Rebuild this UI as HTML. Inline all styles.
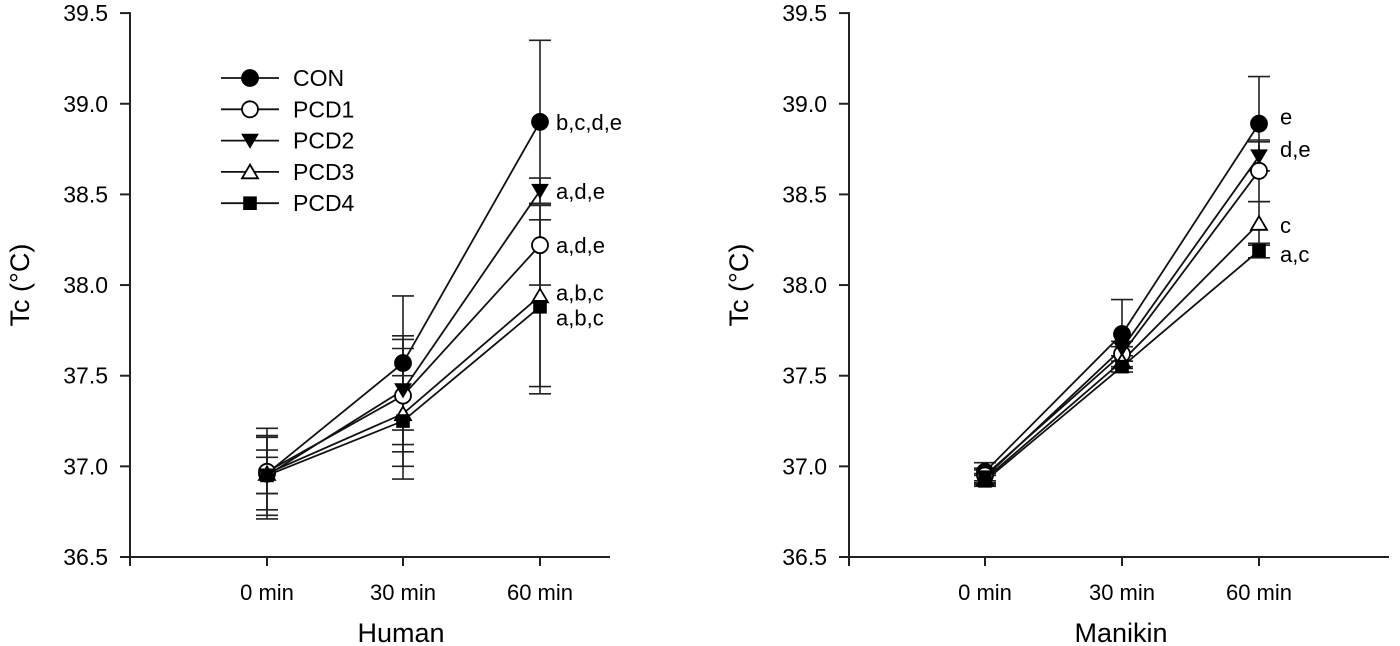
<!DOCTYPE html>
<html><head><meta charset="utf-8"><style>
body{margin:0;background:#fff;}
svg{display:block;font-family:"Liberation Sans",Arial,sans-serif;}
</style></head><body>
<svg id="chart" width="1400" height="646" viewBox="0 0 1400 646"></svg>
<script>
const categories = ["0 min","30 min","60 min"];
const seriesNames = ["CON","PCD1","PCD2","PCD3","PCD4"];
const yTicks = [36.5,37.0,37.5,38.0,38.5,39.0,39.5];
const humanCON  = [36.96,37.57,38.90];
const humanPCD1 = [36.97,37.39,38.22];
const humanPCD2 = [36.95,37.42,38.52];
const humanPCD3 = [36.96,37.29,37.94];
const humanPCD4 = [36.95,37.25,37.88];
const humanErrCON  = [0.25,0.37,0.45];
const humanErrPCD1 = [0.12,0.31,0.22];
const humanErrPCD2 = [0.22,0.30,0.07];
const humanErrPCD3 = [0.20,0.36,0.50];
const humanErrPCD4 = [0.10,0.25,0.48];
const humanNotes = ["b,c,d,e","a,d,e","a,d,e","a,b,c","a,b,c"];
const manCON  = [36.97,37.73,38.89];
const manPCD1 = [36.95,37.62,38.63];
const manPCD2 = [36.94,37.65,38.71];
const manPCD3 = [36.93,37.58,38.34];
const manPCD4 = [36.92,37.55,38.19];
const manErrCON  = [0.05,0.19,0.26];
const manErrPCD1 = [0.04,0.04,0.17];
const manErrPCD2 = [0.04,0.04,0.08];
const manErrPCD3 = [0.03,0.03,0.12];
const manErrPCD4 = [0.03,0.03,0.04];
const manNotes = ["e","d,e","c","a,c"];
const manNoteVals = [38.93,38.75,38.33,38.17];
const humanNoteVals = [38.90,38.52,38.22,37.96,37.82];

const NS="http://www.w3.org/2000/svg";
const svg=document.getElementById('chart');
function mk(tag,attrs,parent){const e=document.createElementNS(NS,tag);for(const k in attrs)e.setAttribute(k,attrs[k]);(parent||svg).appendChild(e);return e;}
const Y0=557, PXU=181.3;
function yS(v){return Y0-(v-36.5)*PXU;}

function marker(g,type,x,y,s){
  let e;
  if(type===0||type===1){e=mk('circle',{cx:x,cy:y,r:s,fill:type===0?'#000':'#fff',stroke:'#000','stroke-width':1.8},g);}
  else if(type===2){e=mk('polygon',{points:`${x-s},${y-s*0.8} ${x+s},${y-s*0.8} ${x},${y+s*0.9}`,fill:'#000',stroke:'#000'},g);}
  else if(type===3){e=mk('polygon',{points:`${x-s},${y+s*0.8} ${x+s},${y+s*0.8} ${x},${y-s*0.9}`,fill:'#fff',stroke:'#000','stroke-width':1.8},g);}
  else {e=mk('rect',{x:x-s*0.85,y:y-s*0.85,width:s*1.7,height:s*1.7,fill:'#000'},g);}
  return e;
}

function panel(name,axisX,xs,series,errs,title,notes,noteVals,noteX,titleX){
  const g=mk('g',{});
  
  
  function xS(i){return xs[i];}
  const ax=mk('line',{x1:axisX,y1:yS(39.5)-1,x2:axisX,y2:Y0,stroke:'#222','stroke-width':2},g);
  
  const bx=mk('line',{x1:axisX,y1:Y0,x2:xs[2]+(name==='human'?70:130),y2:Y0,stroke:'#222','stroke-width':2},g);
  
  yTicks.forEach(t=>{
    mk('line',{x1:axisX-10,y1:yS(t),x2:axisX,y2:yS(t),stroke:'#222','stroke-width':2},g);
    const tx=mk('text',{x:axisX-22,y:yS(t)+8,'text-anchor':'end','font-size':23},g);
    tx.textContent=t.toFixed(1);
    
  });
  mk('line',{x1:axisX,y1:Y0,x2:axisX,y2:Y0+9,stroke:'#222','stroke-width':2},g);
  categories.forEach((c,i)=>{
    mk('line',{x1:xS(i),y1:Y0,x2:xS(i),y2:Y0+9,stroke:'#222','stroke-width':2},g);
    const tx=mk('text',{x:xS(i),y:600,'text-anchor':'middle','font-size':22},g);
    tx.textContent=c;
    
  });
  const xt=mk('text',{x:titleX,y:642,'text-anchor':'middle','font-size':27},g);
  xt.textContent=title;
  
  const yt=mk('text',{x:0,y:0,'text-anchor':'middle','font-size':27,transform:`translate(${axisX-101},${yS(38)}) rotate(-90)`},g);
  yt.textContent='Tc (°C)';
  
  series.forEach((s,si)=>{
    s.forEach((v,i)=>{
      const e=errs[si][i];
      const hi=mk('line',{x1:xS(i),y1:yS(v+e),x2:xS(i),y2:yS(v-e),stroke:'#222','stroke-width':1.6},g);
      
      mk('line',{x1:xS(i)-11,y1:yS(v+e),x2:xS(i)+11,y2:yS(v+e),stroke:'#222','stroke-width':1.6},g);
      mk('line',{x1:xS(i)-11,y1:yS(v-e),x2:xS(i)+11,y2:yS(v-e),stroke:'#222','stroke-width':1.6},g);
    });
  });
  series.forEach((s,si)=>{
    const pl=mk('polyline',{points:s.map((v,i)=>xS(i)+','+yS(v)).join(' '),fill:'none',stroke:'#111','stroke-width':1.8},g);
    
  });
  series.forEach((s,si)=>{
    s.forEach((v,i)=>{
      const m=marker(g,si,xS(i),yS(v),8);
      
      
    });
  });
  notes.forEach((n,i)=>{
    const tx=mk('text',{x:noteX,y:yS(noteVals[i])+8,'font-size':22},g);
    tx.textContent=n;
    
  });
}
panel('human',130,[267,403,540],[humanCON,humanPCD1,humanPCD2,humanPCD3,humanPCD4],
  [humanErrCON,humanErrPCD1,humanErrPCD2,humanErrPCD3,humanErrPCD4],'Human',humanNotes,humanNoteVals,556,401);
panel('manikin',849,[985,1122,1259],[manCON,manPCD1,manPCD2,manPCD3,manPCD4],
  [manErrCON,manErrPCD1,manErrPCD2,manErrPCD3,manErrPCD4],'Manikin',manNotes,manNoteVals,1280,1121);

const lg=mk('g',{});


seriesNames.forEach((n,i)=>{
  const y=78+i*31.3;
  mk('line',{x1:221,y1:y,x2:279,y2:y,stroke:'#111','stroke-width':1.8},lg);
  const m=marker(lg,i,250,y,8);
  
  
  const t=mk('text',{x:293,y:y+8,'font-size':23},lg);
  t.textContent=n;
  
  
});
</script>
</body></html>
